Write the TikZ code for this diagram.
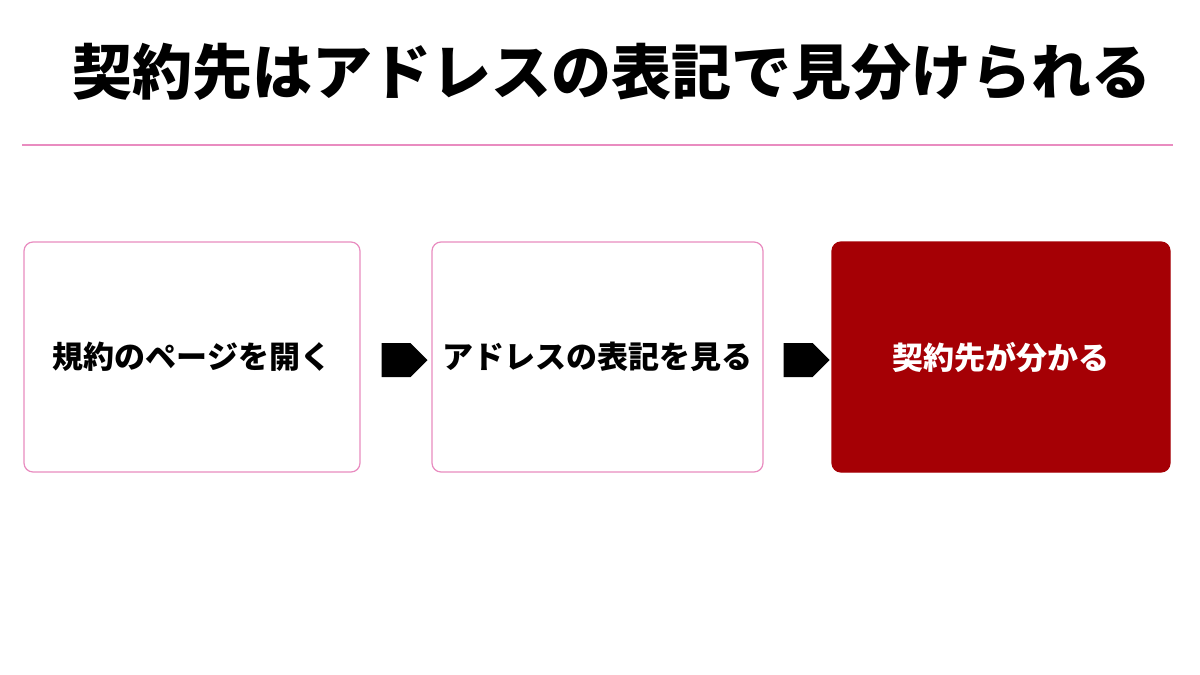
\documentclass[tikz,border=0pt]{standalone}
\usepackage{fontspec}
\setmainfont{Noto Sans CJK JP}
\usetikzlibrary{shapes.arrows}
\definecolor{pinkline}{HTML}{E98CC0}
\definecolor{darkred}{HTML}{A50005}
\begin{document}
\begin{tikzpicture}[x=1pt,y=-1pt,
  box/.style={draw=pinkline,line width=1.2pt,rounded corners=9pt,minimum width=336pt,minimum height=230pt,font=\bfseries\fontsize{31}{36}\selectfont},
  arr/.style={single arrow,fill=black,draw=none,minimum width=34pt,single arrow head extend=0pt,minimum height=46pt,inner sep=4pt,single arrow head indent=0pt}]
\path[use as bounding box,fill=white] (0,0) rectangle (1200,675);
\node[font=\bfseries\fontsize{60}{66}\selectfont] (title) at (612,72) {契約先はアドレスの表記で見分けられる};
\coordinate (l1) at (22,145); \coordinate (l2) at (1173,145);
\draw[pinkline,line width=1.5pt] (l1) -- (l2);
\node[box] (b1) at (192,357) {規約のページを開く};
\node[box,minimum width=331pt] (b2) at (597.5,357) {アドレスの表記を見る};
\node[box,fill=darkred,draw=darkred,text=white,minimum width=338pt] (b3) at (1001,357) {契約先が分かる};
\node[arr] (a1) at (396,360) {};
\node[arr] (a2) at (798,360) {};
\end{tikzpicture}
\end{document}
